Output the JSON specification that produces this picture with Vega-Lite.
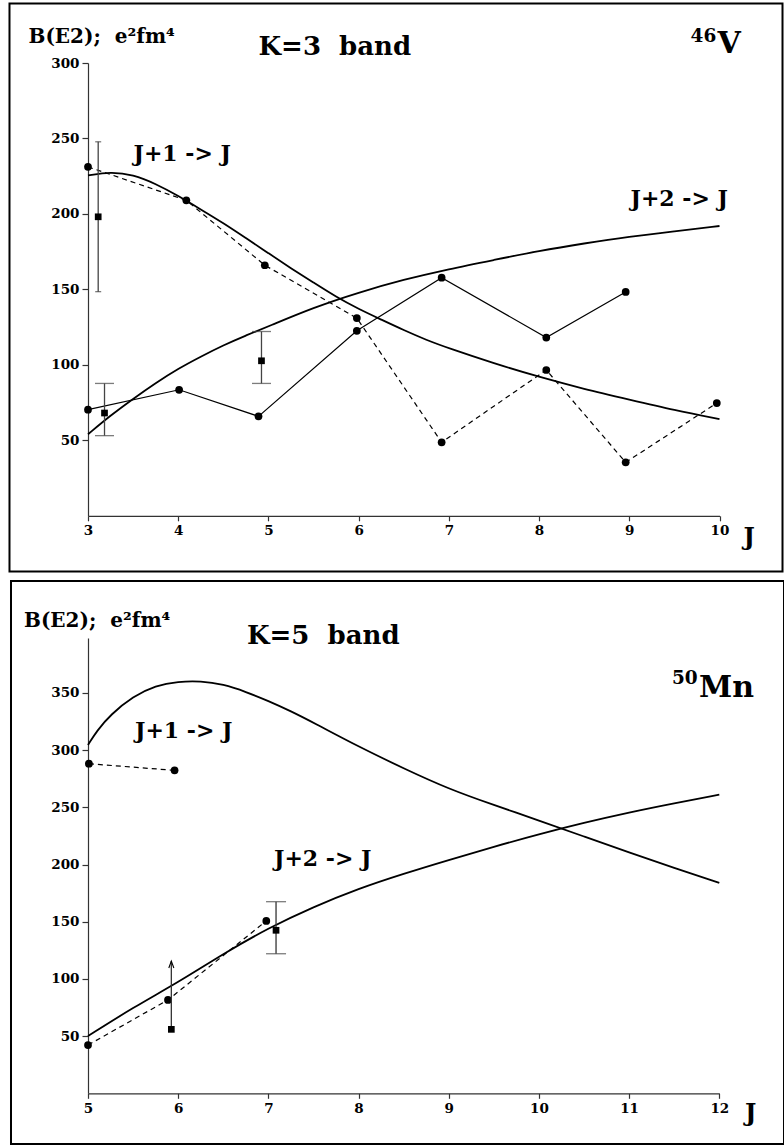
{
  "$schema": "https://vega.github.io/schema/vega-lite/v6.json",
  "background": "white",
  "padding": {"left": 8, "top": 2, "right": 0, "bottom": 0},
  "spacing": 7,
  "datasets": {
    "th46": [
      {"series": "J+1", "J": 3, "B": 225.5}, {"series": "J+1", "J": 3.25, "B": 228}, {"series": "J+1", "J": 3.5, "B": 226},
      {"series": "J+1", "J": 3.75, "B": 220}, {"series": "J+1", "J": 4, "B": 212}, {"series": "J+1", "J": 4.25, "B": 203},
      {"series": "J+1", "J": 4.5, "B": 194}, {"series": "J+1", "J": 4.75, "B": 184}, {"series": "J+1", "J": 5, "B": 174},
      {"series": "J+1", "J": 5.25, "B": 164}, {"series": "J+1", "J": 5.5, "B": 154.5}, {"series": "J+1", "J": 5.75, "B": 145},
      {"series": "J+1", "J": 6, "B": 137}, {"series": "J+1", "J": 6.25, "B": 130}, {"series": "J+1", "J": 6.5, "B": 123},
      {"series": "J+1", "J": 6.75, "B": 116.5}, {"series": "J+1", "J": 7, "B": 111}, {"series": "J+1", "J": 7.5, "B": 101},
      {"series": "J+1", "J": 8, "B": 92}, {"series": "J+1", "J": 8.5, "B": 84}, {"series": "J+1", "J": 9, "B": 77},
      {"series": "J+1", "J": 9.5, "B": 70}, {"series": "J+1", "J": 10, "B": 64},
      {"series": "J+2", "J": 3, "B": 54}, {"series": "J+2", "J": 3.25, "B": 66.5}, {"series": "J+2", "J": 3.5, "B": 77.5},
      {"series": "J+2", "J": 3.75, "B": 88}, {"series": "J+2", "J": 4, "B": 97.5}, {"series": "J+2", "J": 4.25, "B": 105.5},
      {"series": "J+2", "J": 4.5, "B": 113}, {"series": "J+2", "J": 4.75, "B": 119.5}, {"series": "J+2", "J": 5, "B": 125.5},
      {"series": "J+2", "J": 5.5, "B": 138}, {"series": "J+2", "J": 6, "B": 148}, {"series": "J+2", "J": 6.5, "B": 156.5},
      {"series": "J+2", "J": 7, "B": 163.5}, {"series": "J+2", "J": 7.5, "B": 169.5}, {"series": "J+2", "J": 8, "B": 175.5},
      {"series": "J+2", "J": 8.5, "B": 180.5}, {"series": "J+2", "J": 9, "B": 185}, {"series": "J+2", "J": 9.5, "B": 188.5},
      {"series": "J+2", "J": 10, "B": 192}
    ],
    "calc46": [
      {"series": "J+1", "J": 3, "B": 231.2}, {"series": "J+1", "J": 4.09, "B": 209.0}, {"series": "J+1", "J": 4.96, "B": 166.0},
      {"series": "J+1", "J": 5.98, "B": 131.0}, {"series": "J+1", "J": 6.92, "B": 48.7}, {"series": "J+1", "J": 8.08, "B": 96.6},
      {"series": "J+1", "J": 8.96, "B": 35.4}, {"series": "J+1", "J": 9.97, "B": 74.7},
      {"series": "J+2", "J": 3, "B": 70.3}, {"series": "J+2", "J": 4.01, "B": 83.5}, {"series": "J+2", "J": 4.89, "B": 65.9},
      {"series": "J+2", "J": 5.98, "B": 122.6}, {"series": "J+2", "J": 6.92, "B": 157.8}, {"series": "J+2", "J": 8.08, "B": 118.1},
      {"series": "J+2", "J": 8.96, "B": 148.3}
    ],
    "exp46": [
      {"J": 3.113, "B": 198.1, "lo": 148.5, "hi": 247.8, "kind": "range"},
      {"J": 3.183, "B": 68.1, "lo": 53.1, "hi": 87.7, "kind": "range"},
      {"J": 4.923, "B": 102.7, "lo": 87.7, "hi": 122.1, "kind": "range"}
    ],
    "th50": [
      {"series": "J+1", "J": 5, "B": 304.5}, {"series": "J+1", "J": 5.1, "B": 317}, {"series": "J+1", "J": 5.25, "B": 331},
      {"series": "J+1", "J": 5.5, "B": 347}, {"series": "J+1", "J": 5.75, "B": 356.5}, {"series": "J+1", "J": 6, "B": 360},
      {"series": "J+1", "J": 6.25, "B": 360.5}, {"series": "J+1", "J": 6.5, "B": 357.5}, {"series": "J+1", "J": 6.75, "B": 351},
      {"series": "J+1", "J": 7, "B": 343}, {"series": "J+1", "J": 7.25, "B": 334}, {"series": "J+1", "J": 7.5, "B": 324},
      {"series": "J+1", "J": 8, "B": 303}, {"series": "J+1", "J": 8.5, "B": 284}, {"series": "J+1", "J": 9, "B": 266},
      {"series": "J+1", "J": 9.5, "B": 252}, {"series": "J+1", "J": 10, "B": 238.5}, {"series": "J+1", "J": 10.5, "B": 224.5},
      {"series": "J+1", "J": 11, "B": 210.5}, {"series": "J+1", "J": 11.5, "B": 197}, {"series": "J+1", "J": 12, "B": 184},
      {"series": "J+2", "J": 5, "B": 50}, {"series": "J+2", "J": 5.5, "B": 75}, {"series": "J+2", "J": 6, "B": 97},
      {"series": "J+2", "J": 6.5, "B": 122}, {"series": "J+2", "J": 7, "B": 144.5}, {"series": "J+2", "J": 7.5, "B": 163},
      {"series": "J+2", "J": 8, "B": 179}, {"series": "J+2", "J": 8.5, "B": 192}, {"series": "J+2", "J": 9, "B": 204},
      {"series": "J+2", "J": 9.5, "B": 215.5}, {"series": "J+2", "J": 10, "B": 226.5}, {"series": "J+2", "J": 10.5, "B": 236.5},
      {"series": "J+2", "J": 11, "B": 245.5}, {"series": "J+2", "J": 11.5, "B": 253.5}, {"series": "J+2", "J": 12, "B": 261}
    ],
    "calc50": [
      {"series": "J+1", "J": 5.01, "B": 288.1}, {"series": "J+1", "J": 5.96, "B": 282.3},
      {"series": "J+2", "J": 5, "B": 42.2}, {"series": "J+2", "J": 5.887, "B": 81.6}, {"series": "J+2", "J": 6.977, "B": 150.7}
    ],
    "exp50": [
      {"J": 5.924, "B": 55.9, "lo": 55.9, "hi": 115.6, "kind": "lower limit"},
      {"J": 7.085, "B": 142.5, "lo": 122, "hi": 167.5, "kind": "range"}
    ]
  },
  "vconcat": [
    {
      "width": 631.5,
      "height": 452.8,
      "layer": [
        {"data": {"name": "th46"}, "mark": {"type": "line", "interpolate": "basis", "color": "black", "strokeWidth": 1.8},
         "encoding": {
           "x": {"field": "J", "type": "quantitative",
                 "scale": {"domain": [3, 10], "nice": false, "zero": false},
                 "axis": {"values": [3,4,5,6,7,8,9,10], "format": "d",
                          "tickSize": 5, "labelPadding": 3, "labelOverlap": false, "labelFlush": false, "title": null}},
           "y": {"field": "B", "type": "quantitative",
                 "scale": {"domain": [0, 300], "nice": false, "zero": false},
                 "axis": {"values": [50,100,150,200,250,300], "tickSize": 6, "labelPadding": 3, "labelOverlap": false, "labelFlush": false, "title": null}},
           "detail": {"field": "series"}}},
        {"data": {"values": [{}]}, "mark": {"type": "rect", "filled": false, "color": "black", "strokeWidth": 2},
         "encoding": {"x": {"datum": 2.1298, "type": "quantitative"}, "x2": {"datum": 10.6984},
                      "y": {"datum": -36.9, "type": "quantitative"}, "y2": {"datum": 339.4}}},
        {"data": {"name": "calc46"}, "transform": [{"filter": "datum.series == 'J+1'"}],
         "mark": {"type": "line", "color": "black", "strokeWidth": 1.2, "strokeDash": [5, 4]},
         "encoding": {"x": {"field": "J", "type": "quantitative"}, "y": {"field": "B", "type": "quantitative"}}},
        {"data": {"name": "calc46"}, "transform": [{"filter": "datum.series == 'J+2'"}],
         "mark": {"type": "line", "color": "black", "strokeWidth": 1.2},
         "encoding": {"x": {"field": "J", "type": "quantitative"}, "y": {"field": "B", "type": "quantitative"}}},
        {"data": {"name": "calc46"}, "mark": {"type": "point", "shape": "circle", "filled": true, "color": "black", "opacity": 1, "size": 60},
         "encoding": {"x": {"field": "J", "type": "quantitative"}, "y": {"field": "B", "type": "quantitative"}}},
        {"data": {"name": "exp46"}, "mark": {"type": "rule", "color": "#444", "strokeWidth": 1.3},
         "encoding": {"x": {"field": "J", "type": "quantitative"}, "y": {"field": "lo", "type": "quantitative"}, "y2": {"field": "hi"}}},
        {"data": {"name": "exp46"}, "transform": [{"filter": "datum.J < 3.15"}],
         "mark": {"type": "tick", "orient": "horizontal", "size": 6, "thickness": 1.3, "color": "#444"},
         "encoding": {"x": {"field": "J", "type": "quantitative"}, "y": {"field": "lo", "type": "quantitative"}}},
        {"data": {"name": "exp46"}, "transform": [{"filter": "datum.J < 3.15"}],
         "mark": {"type": "tick", "orient": "horizontal", "size": 6, "thickness": 1.3, "color": "#444"},
         "encoding": {"x": {"field": "J", "type": "quantitative"}, "y": {"field": "hi", "type": "quantitative"}}},
        {"data": {"name": "exp46"}, "transform": [{"filter": "datum.J > 3.15"}],
         "mark": {"type": "tick", "orient": "horizontal", "size": 19, "thickness": 1.3, "color": "#444"},
         "encoding": {"x": {"field": "J", "type": "quantitative"}, "y": {"field": "lo", "type": "quantitative"}}},
        {"data": {"name": "exp46"}, "transform": [{"filter": "datum.J > 3.15"}],
         "mark": {"type": "tick", "orient": "horizontal", "size": 19, "thickness": 1.3, "color": "#444"},
         "encoding": {"x": {"field": "J", "type": "quantitative"}, "y": {"field": "hi", "type": "quantitative"}}},
        {"data": {"name": "exp46"}, "mark": {"type": "point", "shape": "square", "filled": true, "color": "black", "opacity": 1, "size": 45},
         "encoding": {"x": {"field": "J", "type": "quantitative"}, "y": {"field": "B", "type": "quantitative"}}},
        {"data": {"values": [{}]}, "mark": {"type": "text", "text": "B(E2);\u00a0\u00a0e²fm⁴", "fontSize": 20, "align": "left", "baseline": "middle"},
         "encoding": {"x": {"datum": 2.3404, "type": "quantitative"}, "y": {"datum": 316.9, "type": "quantitative"}}},
        {"data": {"values": [{}]}, "mark": {"type": "text", "text": "K=3\u00a0\u00a0band", "fontSize": 26, "align": "left", "baseline": "middle"},
         "encoding": {"x": {"datum": 4.89, "type": "quantitative"}, "y": {"datum": 310.3, "type": "quantitative"}}},
        {"data": {"values": [{}]}, "mark": {"type": "text", "text": "46", "fontSize": 18.5, "align": "left", "baseline": "middle"},
         "encoding": {"x": {"datum": 9.6789, "type": "quantitative"}, "y": {"datum": 318.2, "type": "quantitative"}}},
        {"data": {"values": [{}]}, "mark": {"type": "text", "text": "V", "fontSize": 30, "align": "left", "baseline": "middle"},
         "encoding": {"x": {"datum": 9.9781, "type": "quantitative"}, "y": {"datum": 312.3, "type": "quantitative"}}},
        {"data": {"values": [{}]}, "mark": {"type": "text", "text": "J+1 -> J", "fontSize": 22, "align": "left", "baseline": "middle"},
         "encoding": {"x": {"datum": 3.5044, "type": "quantitative"}, "y": {"datum": 240.0, "type": "quantitative"}}},
        {"data": {"values": [{}]}, "mark": {"type": "text", "text": "J+2 -> J", "fontSize": 22, "align": "left", "baseline": "middle"},
         "encoding": {"x": {"datum": 9.0138, "type": "quantitative"}, "y": {"datum": 210.2, "type": "quantitative"}}},
        {"data": {"values": [{}]}, "mark": {"type": "text", "text": "J", "fontSize": 24, "align": "left", "baseline": "middle"},
         "encoding": {"x": {"datum": 10.2663, "type": "quantitative"}, "y": {"datum": -15.0, "type": "quantitative"}}}
      ]
    },
    {
      "width": 631.3,
      "height": 455.3,
      "layer": [
        {"data": {"name": "th50"}, "mark": {"type": "line", "interpolate": "basis", "color": "black", "strokeWidth": 1.8},
         "encoding": {
           "x": {"field": "J", "type": "quantitative",
                 "scale": {"domain": [5, 12], "nice": false, "zero": false},
                 "axis": {"values": [5,6,7,8,9,10,11,12], "format": "d",
                          "tickSize": 5, "labelPadding": 3, "labelOverlap": false, "labelFlush": false, "title": null}},
           "y": {"field": "B", "type": "quantitative",
                 "scale": {"domain": [0, 398], "nice": false, "zero": false},
                 "axis": {"values": [50,100,150,200,250,300,350], "tickSize": 6, "labelPadding": 3, "labelOverlap": false, "labelFlush": false, "title": null}},
           "detail": {"field": "series"}}},
        {"data": {"values": [{}]}, "mark": {"type": "rect", "filled": false, "color": "black", "strokeWidth": 2},
         "encoding": {"x": {"datum": 4.1462, "type": "quantitative"}, "x2": {"datum": 12.7174},
                      "y": {"datum": -44.3, "type": "quantitative"}, "y2": {"datum": 447.8}}},
        {"data": {"name": "calc50"}, "mark": {"type": "line", "color": "black", "strokeWidth": 1.2, "strokeDash": [5, 4]},
         "encoding": {"x": {"field": "J", "type": "quantitative"}, "y": {"field": "B", "type": "quantitative"}, "detail": {"field": "series"}}},
        {"data": {"name": "calc50"}, "mark": {"type": "point", "shape": "circle", "filled": true, "color": "black", "opacity": 1, "size": 60},
         "encoding": {"x": {"field": "J", "type": "quantitative"}, "y": {"field": "B", "type": "quantitative"}}},
        {"data": {"name": "exp50"}, "mark": {"type": "rule", "color": "#333", "strokeWidth": 1.3},
         "encoding": {"x": {"field": "J", "type": "quantitative"}, "y": {"field": "lo", "type": "quantitative"}, "y2": {"field": "hi"}}},
        {"data": {"name": "exp50"}, "transform": [{"filter": "datum.kind == 'range'"}],
         "mark": {"type": "tick", "orient": "horizontal", "size": 20, "thickness": 1.3, "color": "#444"},
         "encoding": {"x": {"field": "J", "type": "quantitative"}, "y": {"field": "lo", "type": "quantitative"}}},
        {"data": {"name": "exp50"}, "transform": [{"filter": "datum.kind == 'range'"}],
         "mark": {"type": "tick", "orient": "horizontal", "size": 20, "thickness": 1.3, "color": "#444"},
         "encoding": {"x": {"field": "J", "type": "quantitative"}, "y": {"field": "hi", "type": "quantitative"}}},
        {"data": {"name": "exp50"}, "transform": [{"filter": "datum.kind == 'lower limit'"}],
         "mark": {"type": "point", "shape": "M-0.36,1L0,0L0.36,1", "filled": false, "color": "black", "strokeWidth": 1.1, "opacity": 1, "size": 196},
         "encoding": {"x": {"field": "J", "type": "quantitative"}, "y": {"field": "hi", "type": "quantitative"}}},
        {"data": {"name": "exp50"}, "mark": {"type": "point", "shape": "square", "filled": true, "color": "black", "opacity": 1, "size": 45},
         "encoding": {"x": {"field": "J", "type": "quantitative"}, "y": {"field": "B", "type": "quantitative"}}},
        {"data": {"values": [{}]}, "mark": {"type": "text", "text": "B(E2);\u00a0\u00a0e²fm⁴", "fontSize": 20, "align": "left", "baseline": "middle"},
         "encoding": {"x": {"datum": 4.2903, "type": "quantitative"}, "y": {"datum": 412.8, "type": "quantitative"}}},
        {"data": {"values": [{}]}, "mark": {"type": "text", "text": "K=5\u00a0\u00a0band", "fontSize": 26, "align": "left", "baseline": "middle"},
         "encoding": {"x": {"datum": 6.7629, "type": "quantitative"}, "y": {"datum": 399.7, "type": "quantitative"}}},
        {"data": {"values": [{}]}, "mark": {"type": "text", "text": "50", "fontSize": 18.5, "align": "left", "baseline": "middle"},
         "encoding": {"x": {"datum": 11.4751, "type": "quantitative"}, "y": {"datum": 363.0, "type": "quantitative"}}},
        {"data": {"values": [{}]}, "mark": {"type": "text", "text": "Mn", "fontSize": 30, "align": "left", "baseline": "middle"},
         "encoding": {"x": {"datum": 11.7745, "type": "quantitative"}, "y": {"datum": 354.3, "type": "quantitative"}}},
        {"data": {"values": [{}]}, "mark": {"type": "text", "text": "J+1 -> J", "fontSize": 22, "align": "left", "baseline": "middle"},
         "encoding": {"x": {"datum": 5.5211, "type": "quantitative"}, "y": {"datum": 316.7, "type": "quantitative"}}},
        {"data": {"values": [{}]}, "mark": {"type": "text", "text": "J+2 -> J", "fontSize": 22, "align": "left", "baseline": "middle"},
         "encoding": {"x": {"datum": 7.0623, "type": "quantitative"}, "y": {"datum": 204.8, "type": "quantitative"}}},
        {"data": {"values": [{}]}, "mark": {"type": "text", "text": "J", "fontSize": 24, "align": "left", "baseline": "middle"},
         "encoding": {"x": {"datum": 12.2845, "type": "quantitative"}, "y": {"datum": -18.1, "type": "quantitative"}}}
      ]
    }
  ],
  "config": {
    "view": {"stroke": null},
    "axis": {"labelFont": "DejaVu Serif", "labelFontWeight": "bold", "labelFontSize": 13.5, "labelColor": "black",
             "domain": true, "domainColor": "#333", "domainWidth": 1.2, "grid": false, "tickColor": "#333", "tickWidth": 1.2,
             "labelOverlap": false, "labelFlush": false},
    "text": {"font": "DejaVu Serif", "fontWeight": "bold", "color": "black"}
  }
}
